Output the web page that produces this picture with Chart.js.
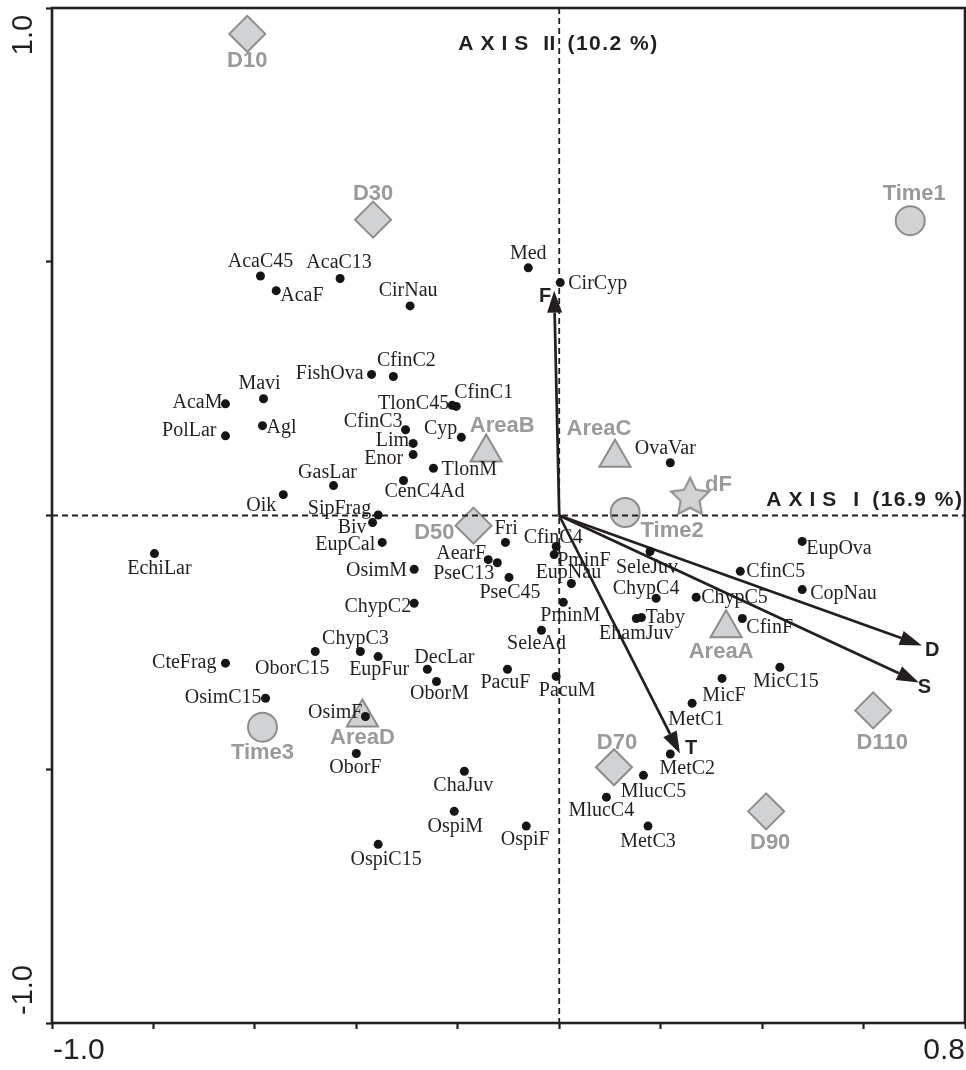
<!DOCTYPE html>
<html>
<head>
<meta charset="utf-8">
<script src="https://cdn.jsdelivr.net/npm/chart.js@4/dist/chart.umd.min.js"></script>
<style>
  html, body { margin: 0; padding: 0; background: #fff; overflow: hidden; }
  #wrap { width: 966px; height: 1070px; position: relative; }
</style>
</head>
<body>
<div id="wrap"><canvas id="c"></canvas></div>
<script>
// ---- Species scores (axis I, axis II) ----
const speciesNames = [
  'AcaC45','AcaF','AcaC13','CirNau','Med','CirCyp','FishOva','CfinC2','Mavi','AcaM',
  'Agl','PolLar','TlonC45','CfinC1','CfinC3','Lim','Enor','Cyp','TlonM','CenC4Ad',
  'GasLar','Oik','SipFrag','Biv','EupCal','EchiLar','OsimM','ChypC2','ChypC3','EupFur',
  'OborC15','CteFrag','OsimC15','DecLar','OborM','OsimF','OborF','ChaJuv','OspiM','OspiF',
  'OspiC15','Fri','AearF','PseC13','PseC45','CfinC4','PminF','EupNau','PminM','SeleAd',
  'PacuF','PacuM','SeleJuv','ChypC4','Taby','EhamJuv','ChypC5','CfinC5','EupOva','CopNau',
  'CfinF','OvaVar','MicC15','MicF','MetC1','MetC2','MlucC5','MlucC4','MetC3'
];
const speciesX = [
  -0.589,-0.558,-0.432,-0.294,-0.061, 0.002,-0.370,-0.327,-0.583,-0.658,
  -0.585,-0.658,-0.211,-0.203,-0.303,-0.288,-0.288,-0.193,-0.248,-0.307,
  -0.445,-0.544,-0.357,-0.368,-0.349,-0.798,-0.286,-0.286,-0.392,-0.357,
  -0.481,-0.658,-0.579,-0.260,-0.242,-0.382,-0.400,-0.187,-0.207,-0.065,
  -0.357,-0.106,-0.140,-0.122,-0.099,-0.006,-0.010, 0.024, 0.008,-0.035,
  -0.102,-0.006, 0.179, 0.191, 0.162, 0.152, 0.270, 0.357, 0.479, 0.479,
   0.361, 0.219, 0.435, 0.321, 0.262, 0.219, 0.166, 0.093, 0.175
];
const speciesY = [
   0.472, 0.443, 0.467, 0.413, 0.488, 0.459, 0.278, 0.274, 0.230, 0.220,
   0.177, 0.157, 0.217, 0.215, 0.169, 0.142, 0.120, 0.154, 0.093, 0.069,
   0.059, 0.041, 0.001,-0.014,-0.053,-0.075,-0.106,-0.173,-0.268,-0.278,
  -0.268,-0.291,-0.360,-0.303,-0.327,-0.396,-0.469,-0.504,-0.583,-0.612,
  -0.648,-0.053,-0.087,-0.093,-0.122,-0.061,-0.077,-0.134,-0.171,-0.226,
  -0.303,-0.317,-0.071,-0.163,-0.201,-0.203,-0.161,-0.110,-0.051,-0.146,
  -0.203, 0.104,-0.299,-0.321,-0.370,-0.470,-0.512,-0.555,-0.612
];

// ---- Sample centroids ----
const depthNames = ['D10','D30','D50','D70','D90','D110'];
const depthX = [-0.615,-0.367,-0.169, 0.108, 0.408, 0.619];
const depthY = [ 0.949, 0.583,-0.020,-0.496,-0.583,-0.384];

const timeNames = ['Time1','Time2','Time3'];
const timeX = [0.692, 0.130,-0.585];
const timeY = [0.581, 0.006,-0.417];

const areaNames = ['AreaA','AreaB','AreaC','AreaD'];
const areaX = [0.329,-0.144, 0.110,-0.388];
const areaY = [-0.222, 0.124, 0.114,-0.398];

const flowNames = ['dF'];
const flowX = [0.258];
const flowY = [0.035];

// ---- Environmental vectors ----
const vectorNames = ['F','D','S','T'];
const vectorX = [-0.010, 0.715, 0.709, 0.238];
const vectorY = [ 0.443,-0.256,-0.329,-0.469];

// ---- Axis text ----
const xTickLabels = ['-1.0', '0.8'];
const yTickLabels = ['1.0', '-1.0'];
const axisOneTitle = [{t:'AXIS', s:7}, {g:17}, {t:'I', s:0}, {g:13}, {t:'(16.9 %)', s:1.5}];
const axisTwoTitle = [{t:'AXIS', s:7}, {g:15}, {t:'II', s:0.5}, {g:12}, {t:'(10.2 %)', s:1.5}];

// Label anchor relative to each marker: [dx, dy, align]
const speciesLabelAt = {
  AcaC45:[0,-14,'c'], AcaF:[4,5,'l'], AcaC13:[-1,-16,'c'], CirNau:[-2,-15,'c'], Med:[0,-14,'c'],
  CirCyp:[8,1,'l'], FishOva:[-8,-1,'r'], CfinC2:[13,-16,'c'], Mavi:[-4,-15,'c'], AcaM:[-3,-1,'r'],
  Agl:[4,2,'l'], PolLar:[-9,-5,'r'], TlonC45:[-3,-2,'r'], CfinC1:[-2,-14,'l'], CfinC3:[-3,-8,'r'],
  Lim:[-4,-3,'r'], Enor:[-10,4,'r'], Cyp:[-4,-9,'r'], TlonM:[8,1,'l'], CenC4Ad:[21,11,'c'],
  GasLar:[-6,-13,'c'], Oik:[-7,11,'r'], SipFrag:[-7,-6,'r'], Biv:[-6,5,'r'], EupCal:[-7,2,'r'],
  EchiLar:[5,15,'c'], OsimM:[-7,1,'r'], ChypC2:[-3,3,'r'], ChypC3:[-5,-13,'c'], EupFur:[1,13,'c'],
  OborC15:[-23,17,'c'], CteFrag:[-9,0,'r'], OsimC15:[-4,0,'r'], DecLar:[-13,-12,'l'], OborM:[3,12,'c'],
  OsimF:[-3,-4,'r'], OborF:[-1,14,'c'], ChaJuv:[-1,14,'c'], OspiM:[1,15,'c'], OspiF:[-1,14,'c'],
  OspiC15:[8,15,'c'], Fri:[-11,-14,'l'], AearF:[-2,-6,'r'], PseC13:[-3,11,'r'], PseC45:[1,15,'c'],
  CfinC4:[-3,-9,'c'], PminF:[3,6,'l'], EupNau:[-3,-11,'c'], PminM:[7,13,'c'], SeleAd:[-5,14,'c'],
  PacuF:[-2,13,'c'], PacuM:[11,14,'c'], SeleJuv:[-3,16,'c'], ChypC4:[-10,-9,'c'], Taby:[4,0,'l'],
  EhamJuv:[0,15,'c'], ChypC5:[5,1,'l'], CfinC5:[6,0,'l'], EupOva:[4,7,'l'], CopNau:[8,4,'l'],
  CfinF:[4,9,'l'], OvaVar:[-5,-14,'c'], MicC15:[6,15,'c'], MicF:[2,17,'c'], MetC1:[4,16,'c'],
  MetC2:[17,15,'c'], MlucC5:[10,16,'c'], MlucC4:[-5,14,'c'], MetC3:[0,16,'c']
};
const sampleLabelAt = {
  D10:[0,27,'c'], D30:[0,-26,'c'], D50:[-19,7,'r'], D70:[3,-24,'c'], D90:[4,32,'c'], D110:[9,33,'c'],
  Time1:[4,-27,'c'], Time2:[47,18,'c'], Time3:[0,26,'c'],
  AreaA:[-5,24,'c'], AreaB:[16,-27,'c'], AreaC:[-16,-29,'c'], AreaD:[0,20,'c'],
  dF:[15,-13,'l']
};
const vectorLabelAt = { F:[-3,6,'r'], D:[3,5,'l'], S:[-1,5,'l'], T:[5,-5,'l'] };

const INK = '#231f20';
const GREY_FILL = '#d1d2d4';
const GREY_EDGE = '#8c8c8c';
const GREY_TEXT = '#999a9c';
const SERIF = '"Liberation Serif", "Times New Roman", serif';
const SANS = '"Liberation Sans", Arial, Helvetica, sans-serif';

// Filled five-point star used for the flow centroid
function makeStar(R, ratio) {
  const size = Math.ceil(R * 2 + 6);
  const cv = document.createElement('canvas');
  cv.width = size; cv.height = size;
  const g = cv.getContext('2d');
  const cx = size / 2, cy = size / 2;
  g.beginPath();
  for (let i = 0; i < 10; i++) {
    const r = i % 2 === 0 ? R : R * ratio;
    const a = -Math.PI / 2 + i * Math.PI / 5;
    const px = cx + r * Math.cos(a), py = cy + r * Math.sin(a);
    if (i === 0) g.moveTo(px, py); else g.lineTo(px, py);
  }
  g.closePath();
  g.fillStyle = GREY_FILL; g.fill();
  g.lineWidth = 2; g.strokeStyle = GREY_EDGE; g.stroke();
  return cv;
}

const toPts = (xs, ys) => xs.map((x, i) => ({ x, y: ys[i] }));

function drawParts(ctx, parts, x, y, align) {
  const widthOf = p => {
    if (p.g !== undefined) return p.g;
    let w = 0;
    for (const ch of p.t) w += ctx.measureText(ch).width;
    return w + p.s * (p.t.length - 1);
  };
  const total = parts.reduce((a, p) => a + widthOf(p), 0);
  let cx = align === 'r' ? x - total : x;
  ctx.textAlign = 'left';
  for (const p of parts) {
    if (p.g !== undefined) { cx += p.g; continue; }
    for (const ch of p.t) {
      ctx.fillText(ch, cx, y);
      cx += ctx.measureText(ch).width + p.s;
    }
    cx -= p.s;
  }
}

function putLabel(ctx, text, x, y, spec) {
  const [dx, dy, al] = spec || [0, 0, 'c'];
  ctx.textAlign = al === 'l' ? 'left' : al === 'r' ? 'right' : 'center';
  ctx.fillText(text, x + dx, y + dy);
}

const biplotPlugin = {
  id: 'biplot',
  beforeDatasetDraw(chart, args) {
    if (args.index !== 0) return;
    // zero lines and vectors go beneath the species dots, above the centroids
    const { ctx, chartArea: a, scales: { x: xs, y: ys } } = chart;
    const x0 = xs.getPixelForValue(0), y0 = ys.getPixelForValue(0);
    ctx.save();
    ctx.strokeStyle = INK; ctx.lineWidth = 1.8; ctx.setLineDash([6, 4]);
    ctx.beginPath(); ctx.moveTo(x0, a.top); ctx.lineTo(x0, a.bottom); ctx.stroke();
    ctx.beginPath(); ctx.moveTo(a.left, y0); ctx.lineTo(a.right, y0); ctx.stroke();
    ctx.setLineDash([]);
    ctx.lineWidth = 2.7; ctx.fillStyle = INK;
    vectorNames.forEach((n, i) => {
      const tx = xs.getPixelForValue(vectorX[i]), ty = ys.getPixelForValue(vectorY[i]);
      const ang = Math.atan2(ty - y0, tx - x0);
      const L = 22, H = 7.5;
      const bx = tx - L * Math.cos(ang), by = ty - L * Math.sin(ang);
      ctx.beginPath(); ctx.moveTo(x0, y0); ctx.lineTo(bx, by); ctx.stroke();
      ctx.beginPath();
      ctx.moveTo(tx, ty);
      ctx.lineTo(bx + H * Math.sin(ang), by - H * Math.cos(ang));
      ctx.lineTo(bx - H * Math.sin(ang), by + H * Math.cos(ang));
      ctx.closePath(); ctx.fill();
    });
    ctx.restore();
  },
  afterDatasetsDraw(chart) {
    const { ctx, chartArea: a, scales: { x: xs, y: ys } } = chart;
    ctx.save();
    ctx.textBaseline = 'middle';

    // centroid labels
    ctx.font = 'bold 22px ' + SANS;
    ctx.fillStyle = GREY_TEXT;
    [[1, depthNames], [2, timeNames], [3, areaNames], [4, flowNames]].forEach(([di, names]) => {
      const meta = chart.getDatasetMeta(di);
      names.forEach((n, i) => {
        const el = meta.data[i];
        putLabel(ctx, n, el.x, el.y, sampleLabelAt[n]);
      });
    });

    // species labels
    ctx.font = '20px ' + SERIF;
    ctx.fillStyle = INK;
    const sm = chart.getDatasetMeta(0);
    speciesNames.forEach((n, i) => {
      const el = sm.data[i];
      putLabel(ctx, n, el.x, el.y, speciesLabelAt[n]);
    });

    // vector labels
    ctx.font = 'bold 20px ' + SANS;
    vectorNames.forEach((n, i) => {
      const tx = xs.getPixelForValue(vectorX[i]), ty = ys.getPixelForValue(vectorY[i]);
      putLabel(ctx, n, tx, ty, vectorLabelAt[n]);
    });

    // axis titles
    ctx.font = 'bold 21px ' + SANS;
    const x0 = xs.getPixelForValue(0), y0 = ys.getPixelForValue(0);
    drawParts(ctx, axisTwoTitle, x0 - 101, ys.getPixelForValue(1) + 36, 'l');
    drawParts(ctx, axisOneTitle, a.right - 3, y0 - 15, 'r');

    // end tick labels
    ctx.font = '30px ' + SANS;
    ctx.fillStyle = INK;
    ctx.textBaseline = 'middle';
    ctx.textAlign = 'left';
    ctx.fillText(xTickLabels[0], xs.getPixelForValue(-1) + 1, a.bottom + 28);
    ctx.textAlign = 'right';
    ctx.fillText(xTickLabels[1], xs.getPixelForValue(0.8), a.bottom + 28);
    ctx.font = '29px ' + SANS;
    [[yTickLabels[0], ys.getPixelForValue(1) + 27], [yTickLabels[1], ys.getPixelForValue(-1) - 33]].forEach(([t, py]) => {
      ctx.save();
      ctx.translate(a.left - 28, py);
      ctx.rotate(-Math.PI / 2);
      ctx.textAlign = 'center';
      ctx.fillText(t, 0, 0);
      ctx.restore();
    });
    ctx.restore();
  },
  afterDraw(chart) {
    const { ctx, chartArea: a } = chart;
    ctx.save();
    ctx.strokeStyle = INK; ctx.lineWidth = 2.6;
    ctx.strokeRect(a.left, a.top, a.right - a.left, a.bottom - a.top);
    ctx.restore();
  }
};

const greyMarker = {
  backgroundColor: GREY_FILL,
  borderColor: GREY_EDGE,
  borderWidth: 2,
  order: 1,
  clip: false
};

new Chart(document.getElementById('c'), {
  type: 'scatter',
  data: {
    datasets: [
      { label: 'species', data: toPts(speciesX, speciesY), pointStyle: 'circle', pointRadius: 4.5,
        backgroundColor: '#151515', borderColor: '#151515', borderWidth: 0, order: 0, clip: false },
      Object.assign({ label: 'depth', data: toPts(depthX, depthY), pointStyle: 'rectRot', pointRadius: 18 }, greyMarker),
      Object.assign({ label: 'time', data: toPts(timeX, timeY), pointStyle: 'circle', pointRadius: 14.5 }, greyMarker),
      Object.assign({ label: 'area', data: toPts(areaX, areaY), pointStyle: 'triangle', pointRadius: 18 }, greyMarker),
      Object.assign({ label: 'flow', data: toPts(flowX, flowY), pointStyle: makeStar(20, 0.5), pointRadius: 18 }, greyMarker)
    ]
  },
  options: {
    responsive: true,
    maintainAspectRatio: false,
    animation: false,
    events: [],
    layout: { autoPadding: false, padding: { left: 46, right: 1, top: 8, bottom: 41 } },
    plugins: { legend: { display: false }, tooltip: { enabled: false } },
    scales: {
      x: {
        type: 'linear', min: -1, max: 0.8,
        ticks: { display: false, stepSize: 0.2 },
        grid: { drawOnChartArea: false, drawTicks: true, tickLength: 6, tickWidth: 2.2, tickColor: INK },
        border: { display: false }
      },
      y: {
        type: 'linear', min: -1, max: 1,
        ticks: { display: false, stepSize: 0.5 },
        grid: { drawOnChartArea: false, drawTicks: true, tickLength: 6, tickWidth: 2.2, tickColor: INK },
        border: { display: false }
      }
    }
  },
  plugins: [biplotPlugin]
});
</script>
</body>
</html>
